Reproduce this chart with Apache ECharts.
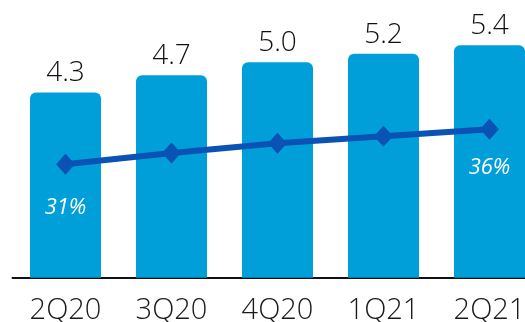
<!DOCTYPE html>
<html>
<head>
<meta charset="utf-8">
<script src="https://cdn.jsdelivr.net/npm/echarts@6/dist/echarts.min.js"></script>
<style>
  html, body { margin: 0; padding: 0; background: #ffffff; overflow: hidden; }
  #chart { width: 525px; height: 322px; }
</style>
</head>
<body>
<div id="chart"></div>
<script>
// Quarters along the category axis
const quarters = ['2Q20', '3Q20', '4Q20', '1Q21', '2Q21'];
// Bar values (left axis)
const barValues = [4.3, 4.7, 5.0, 5.2, 5.4];
// Ratio line values in percent (right axis)
const ratioValues = [31, 32.6, 34.0, 35.0, 36];
// Which ratio points carry a label
const ratioLabelled = [true, false, false, false, true];
const ratioLabelGap = [22, 0, 0, 0, 17];

const FONT = '"Open Sans", "Noto Sans", sans-serif';
const BAR_COLOR = '#009fda';
const LINE_COLOR = '#0b52b5';

const chart = echarts.init(document.getElementById('chart'), null, { renderer: 'canvas' });

const lineData = ratioValues.map((v, i) => ({
  value: v,
  label: {
    show: ratioLabelled[i],
    position: 'bottom',
    distance: ratioLabelGap[i],
    formatter: p => Math.round(p.value) + '%'
  }
}));

chart.setOption({
  animation: false,
  backgroundColor: '#ffffff',
  // the plot runs past the right edge, so the last bar is cut off
  grid: {
    left: 12.5, top: 19.3, width: 530, height: 258.4,
    containLabel: false, outerBoundsMode: 'none'
  },
  xAxis: {
    type: 'category',
    data: quarters,
    axisLine: { show: true, lineStyle: { color: '#111111', width: 2 } },
    axisTick: { show: false },
    axisLabel: { color: '#1a1a1a', fontSize: 29, fontWeight: 300, fontFamily: FONT, margin: 19 }
  },
  yAxis: [
    { type: 'value', min: 0, max: 6, show: false, splitLine: { show: false } },
    { type: 'value', min: 14.8, max: 51.71, show: false, splitLine: { show: false } }
  ],
  series: [
    {
      type: 'bar',
      data: barValues,
      yAxisIndex: 0,
      barCategoryGap: '33%',
      itemStyle: { color: BAR_COLOR, borderRadius: [6, 6, 0, 0] },
      label: {
        show: true,
        position: 'top',
        distance: 5,
        color: '#111111',
        fontSize: 28,
        fontWeight: 300,
        fontFamily: FONT,
        formatter: p => p.value.toFixed(1)
      }
    },
    {
      type: 'line',
      data: lineData,
      yAxisIndex: 1,
      symbol: 'diamond',
      symbolSize: [19, 21],
      lineStyle: { color: LINE_COLOR, width: 6 },
      itemStyle: { color: LINE_COLOR },
      label: {
        color: '#ffffff',
        fontSize: 22,
        fontStyle: 'italic',
        fontWeight: 'normal',
        fontFamily: FONT
      },
      z: 3
    }
  ]
});
</script>
</body>
</html>
